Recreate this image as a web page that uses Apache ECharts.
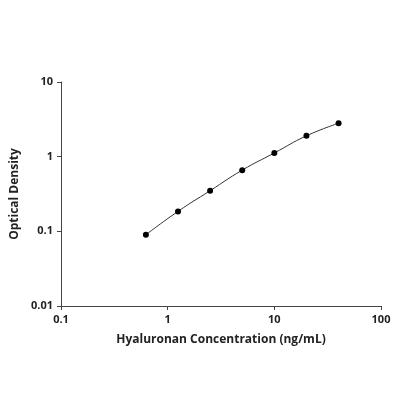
<!DOCTYPE html><html><head><meta charset="utf-8"><script src="https://cdn.jsdelivr.net/npm/echarts@6/dist/echarts.min.js"></script></head><body style="margin:0;background:#fff"><div id="c" style="width:400px;height:400px"></div><script>
const conc=[0.625,1.25,2.5,5,10,20,40];
const od=[0.09,0.185,0.35,0.66,1.12,1.9,2.8];
const ax={color:'#333',fontFamily:'Open Sans'};
const c=echarts.init(document.getElementById('c'));
c.setOption({animation:false,
grid:{left:61,right:19,top:82,bottom:94},
xAxis:{type:'log',min:0.1,max:100,logBase:10,name:'Hyaluronan Concentration (ng/mL)',nameLocation:'middle',nameGap:28,
nameTextStyle:{fontSize:12,fontWeight:'bold',color:'#222',fontFamily:'Open Sans'},
axisLine:{lineStyle:{color:'#444'}},axisTick:{length:4,lineStyle:{color:'#444'}},splitLine:{show:false},
axisLabel:{fontSize:11,fontWeight:'bold',color:'#222',fontFamily:'Open Sans',formatter:v=>String(v)}},
yAxis:{type:'log',min:0.01,max:10,logBase:10,name:'Optical Density',nameLocation:'middle',nameGap:38,
nameTextStyle:{fontSize:12,fontWeight:'bold',color:'#222',fontFamily:'Open Sans'},
axisLine:{show:true,lineStyle:{color:'#444'}},axisTick:{show:true,length:4,lineStyle:{color:'#444'}},splitLine:{show:false},
axisLabel:{fontSize:11,fontWeight:'bold',color:'#222',fontFamily:'Open Sans',formatter:v=>String(v)}},
series:[{type:'line',smooth:true,data:conc.map((x,i)=>[x,od[i]]),symbol:'circle',symbolSize:6,
itemStyle:{color:'#000'},lineStyle:{color:'#333',width:1}}]});
</script></body></html>
